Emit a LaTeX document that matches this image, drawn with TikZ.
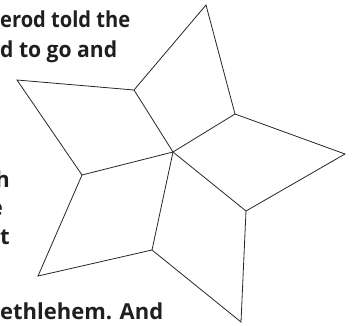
\documentclass[tikz,border=0pt]{standalone}
\usepackage{fontspec}
\setmainfont{Open Sans}
\begin{document}
\begin{tikzpicture}[x=1pt,y=-1pt,
  txt/.style={inner sep=0pt,font=\fontsize{22}{28}\selectfont\bfseries,text=black!88},
  edge/.style={draw=black!85,line width=0.8pt,line join=miter}]
\useasboundingbox (0,0) rectangle (354,325);
\clip (0,0) rectangle (354,325);
% text fragments
\node[txt,anchor=base west] (t1) at (0,27) {\resizebox{130pt}{\height}{erod told the}};
\node[txt,anchor=base west] (t2) at (0,57) {\resizebox{117pt}{\height}{d to go and}};
\node[txt,anchor=base east] (t3) at (10,187) {h};
\node[txt,anchor=base east] (t4) at (3,215) {e};
\node[txt,anchor=base east] (t5) at (10,244) {t};
\node[txt,anchor=base west] (t6) at (0,319) {\resizebox{163pt}{\height}{ethlehem. And}};
% star
\coordinate (T) at (206,5);
\coordinate (I1) at (235,114);
\coordinate (R) at (345,154);
\coordinate (I2) at (246,211);
\coordinate (B) at (241,322);
\coordinate (I3) at (152,250);
\coordinate (LL) at (38,276);
\coordinate (I4) at (82,175);
\coordinate (UL) at (17,80);
\coordinate (I5) at (134,90);
\coordinate (C) at (173,152);
\draw[edge] (T) -- (I1) -- (R) -- (I2) -- (B) -- (I3) -- (LL) -- (I4) -- (UL) -- (I5) -- cycle;
\draw[edge] (C) -- (I1);
\draw[edge] (C) -- (I2);
\draw[edge] (C) -- (I3);
\draw[edge] (C) -- (I4);
\draw[edge] (C) -- (I5);
\end{tikzpicture}
\end{document}
